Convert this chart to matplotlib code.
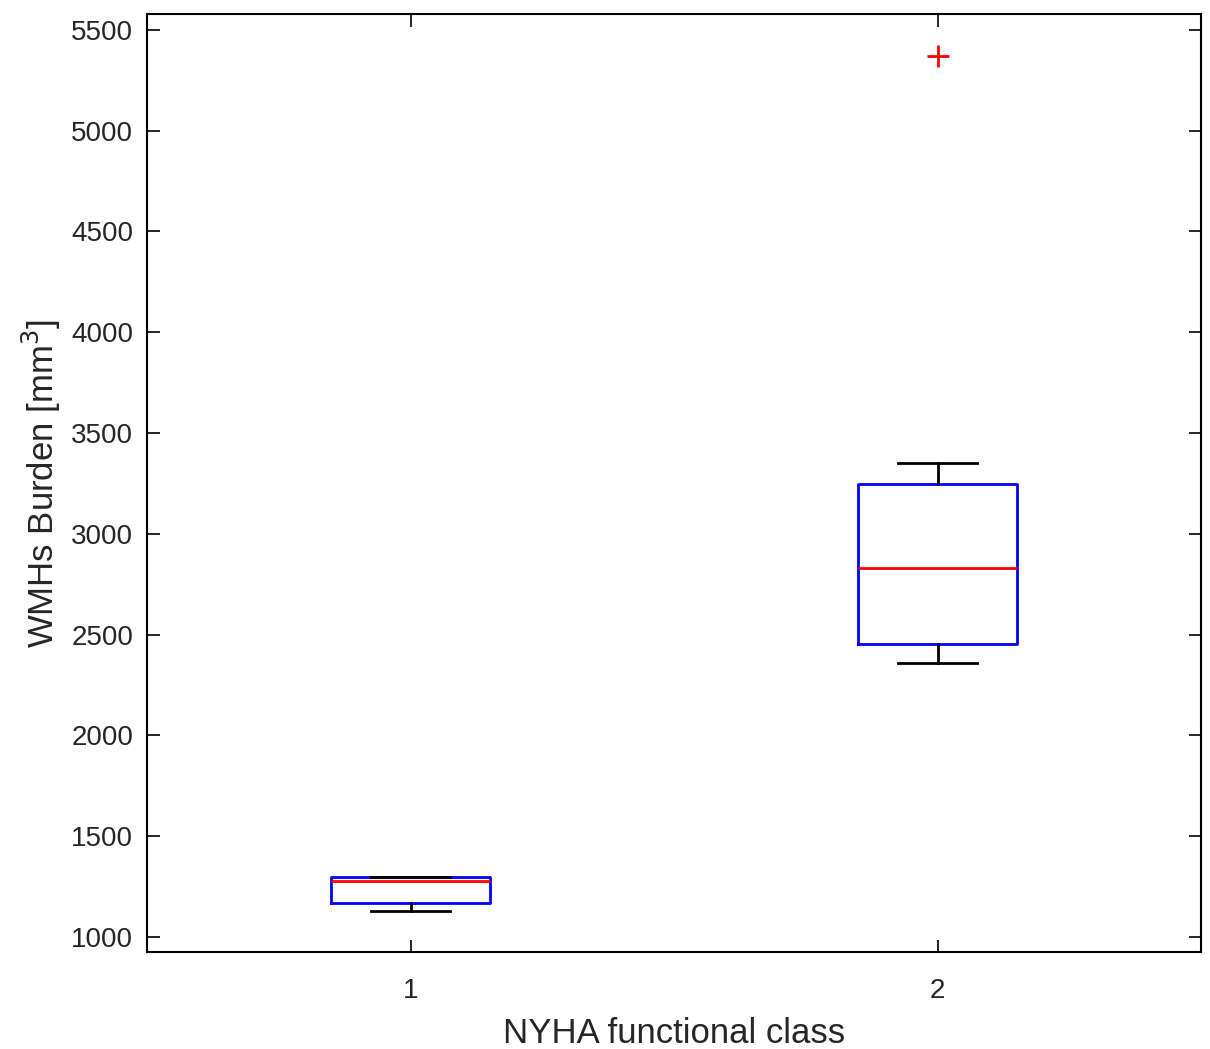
import matplotlib
matplotlib.use("Agg")
import matplotlib.pyplot as plt

plt.rcParams["font.family"] = ["Liberation Sans", "DejaVu Sans"]

# box statistics
classes = ["1", "2"]
positions = [1, 2]
whislo = [1129, 2361]
q1 = [1169, 2452]
med = [1278, 2830]
q3 = [1298, 3247]
whishi = [1298, 3350]
fliers = [[], [5372]]

stats = []
for i in range(len(classes)):
    stats.append(dict(label=classes[i], whislo=whislo[i], q1=q1[i], med=med[i],
                      q3=q3[i], whishi=whishi[i], fliers=fliers[i]))

fig = plt.figure(figsize=(12.1, 10.49), dpi=100)
ax = fig.add_axes([0.1215, 0.0925, 0.8711, 0.8942])

ax.bxp(stats, positions=positions, widths=0.3, showfliers=True,
       boxprops=dict(color="#0000ff", linewidth=2),
       medianprops=dict(color="#ff0000", linewidth=2),
       whiskerprops=dict(color="black", linewidth=2, linestyle="-"),
       capprops=dict(color="black", linewidth=2),
       capwidths=0.15,
       flierprops=dict(marker="+", markeredgecolor="#ff0000", markersize=16,
                       markeredgewidth=2, linestyle="none"))

ax.set_xlim(0.5, 2.5)
ax.set_ylim(925, 5579)
ax.set_yticks(range(1000, 5501, 500))
ax.set_xticks(positions)
ax.set_xticklabels(classes)
ax.tick_params(direction="in", length=9, width=1.2, labelsize=20, top=True, right=True,
               colors="black", labelcolor="#262626", pad=10)
ax.tick_params(axis="x", pad=19)
for s in ax.spines.values():
    s.set_linewidth(1.5)

ax.set_xlabel("NYHA functional class", fontsize=25, color="#262626", labelpad=9)
ax.set_ylabel("WMHs Burden [mm$^3$]", fontsize=25, color="#262626", labelpad=6)

fig.savefig("out.png", dpi=100)
